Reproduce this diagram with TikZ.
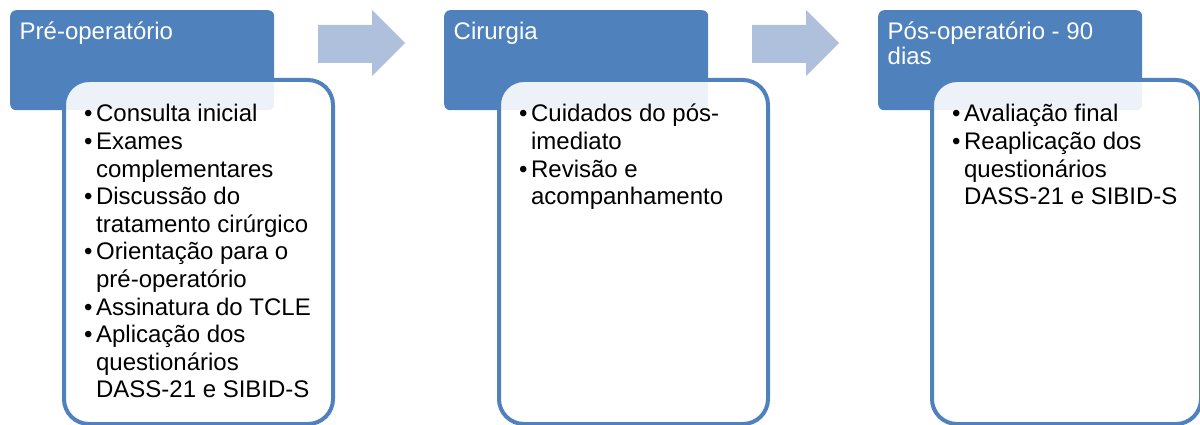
\documentclass[tikz,border=0pt]{standalone}
\usepackage{fontspec}
\setmainfont{Liberation Sans}
\definecolor{stageblue}{HTML}{4F81BD}
\definecolor{arrowblue}{HTML}{AFC0DD}
\begin{document}
\begin{tikzpicture}[x=1pt,y=-1pt,
	stage head/.style={fill=stageblue,rounded corners=6pt,minimum width=264,minimum height=100,anchor=north west,inner sep=0pt},
	stage body/.style={fill=white,fill opacity=0.9,draw=stageblue,line width=4pt,rounded corners=25pt,minimum width=269,minimum height=344,anchor=north west,inner sep=0pt},
	stage arrow/.style={fill=arrowblue},
	head text/.style={text=white,anchor=base west,inner sep=0pt,font=\fontsize{24}{25}\selectfont},
	list text/.style={anchor=base west,inner sep=0pt,font=\fontsize{24}{27.6}\selectfont}]
  %\path[use as bounding box, draw] (0,0) rectangle (1200,425);
\useasboundingbox (0,0) rectangle (1200,425);

\node[stage head] (preHead) at (10,10) {};
\node[stage head] (surgHead) at (444,10) {};
\node[stage head] (postHead) at (878,10) {};

\node[stage body] (preBody) at (62,78) {};
\node[stage body] (surgBody) at (497,78) {};
\node[stage body] (postBody) at (930,78) {};

\path[stage arrow] (318,25) -- (372,25) -- (372,10) -- (405,43) -- (372,76) -- (372,63) -- (318,63) -- cycle;
\path[stage arrow] (752,25) -- (806,25) -- (806,10) -- (839,43) -- (806,76) -- (806,63) -- (752,63) -- cycle;

\node[head text] (preTitle) at (19.5,40) {Pré-operatório};
\node[head text] (surgTitle) at (453.5,40) {Cirurgia};
\node[head text] (postTitle) at (887.5,40) {\begin{tabular}[t]{@{}l@{}}Pós-operatório - 90\\dias\end{tabular}};

\node[list text] (preList) at (84,122) {\begin{tabular}[t]{@{}l@{\hspace{3.5pt}}l@{}}
\textbullet & Consulta inicial\\
\textbullet & Exames\\
 & complementares\\
\textbullet & Discussão do\\
 & tratamento cirúrgico\\
\textbullet & Orientação para o\\
 & pré-operatório\\
\textbullet & Assinatura do TCLE\\
\textbullet & Aplicação dos\\
 & questionários\\
 & DASS-21 e SIBID-S
\end{tabular}};
\node[list text] (surgList) at (519,122) {\begin{tabular}[t]{@{}l@{\hspace{3.5pt}}l@{}}
\textbullet & Cuidados do pós-\\
 & imediato\\
\textbullet & Revisão e\\
 & acompanhamento
\end{tabular}};
\node[list text] (postList) at (952,122) {\begin{tabular}[t]{@{}l@{\hspace{3.5pt}}l@{}}
\textbullet & Avaliação final\\
\textbullet & Reaplicação dos\\
 & questionários\\
 & DASS-21 e SIBID-S
\end{tabular}};
\end{tikzpicture}
\end{document}
